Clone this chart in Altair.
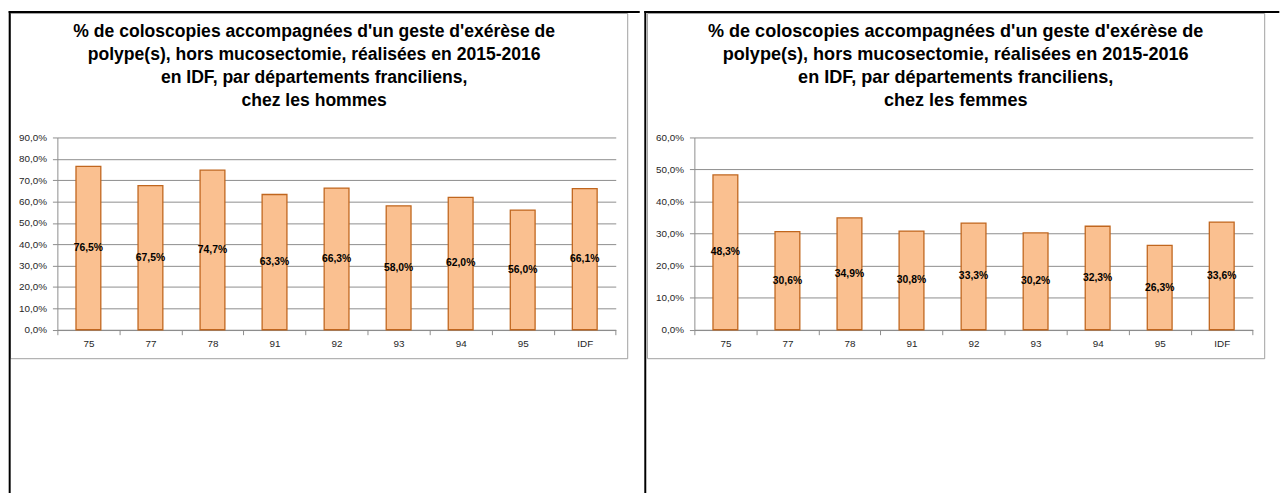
import altair as alt
import pandas as pd

categories = ["75", "77", "78", "91", "92", "93", "94", "95", "IDF"]
hommes = [76.5, 67.5, 74.7, 63.3, 66.3, 58.0, 62.0, 56.0, 66.1]
femmes = [48.3, 30.6, 34.9, 30.8, 33.3, 30.2, 32.3, 26.3, 33.6]

title_hommes = [
    "% de coloscopies accompagnées d'un geste d'exérèse de",
    "polype(s), hors mucosectomie, réalisées en 2015-2016",
    "en IDF, par départements franciliens,",
    "chez les hommes",
]
title_femmes = [
    "% de coloscopies accompagnées d'un geste d'exérèse de",
    "polype(s), hors mucosectomie, réalisées en 2015-2016",
    "en IDF, par départements franciliens,",
    "chez les femmes",
]

W = 565.4
H = 194.7
GRID = "#8c8c8c"
FONT = "Liberation Sans"
LABEL_COLOR = "#262626"


def panel(values, ymax, title_lines, title_x, title_size, vx, top_x2):
    df = pd.DataFrame({"cat": categories, "v": values})
    one = pd.DataFrame({"k": [0]})

    x_axis = alt.Axis(
        title=None, labelAngle=0, tickBand="extent", domainColor=GRID,
        tickColor=GRID, tickSize=5, labelPadding=4, labelFont=FONT,
        labelFontSize=10, labelColor=LABEL_COLOR, grid=False,
    )
    x_scale = alt.Scale(paddingInner=0, paddingOuter=0)
    y_axis = alt.Axis(
        title=None, values=list(range(0, ymax + 1, 10)), labelOverlap=False,
        labelExpr="replace(format(datum.value, '.1f'), '.', ',') + '%'",
        grid=True, gridColor=GRID, gridWidth=1, domainColor=GRID,
        tickColor=GRID, tickSize=5, labelPadding=6, labelFont=FONT,
        labelFontSize=10, labelColor=LABEL_COLOR,
    )
    y_scale = alt.Scale(domain=[0, ymax], nice=False)

    box = alt.Chart(one).mark_rect(fill="transparent", stroke="#a0a0a0", strokeWidth=1).encode(
        x=alt.value(-47.5), x2=alt.value(577.5), y=alt.value(-125.5), y2=alt.value(224)
    )
    # black table borders (drawn as filled rects so their extent is exact)
    vline = alt.Chart(one).mark_rect(fill="black", strokeWidth=0).encode(
        x=alt.value(vx), x2=alt.value(vx + 2), y=alt.value(-128), y2=alt.value(365)
    )
    hline = alt.Chart(one).mark_rect(fill="black", strokeWidth=0).encode(
        x=alt.value(vx), x2=alt.value(top_x2), y=alt.value(-128), y2=alt.value(-126)
    )
    title = alt.Chart(one).mark_text(
        text=title_lines, font=FONT, fontSize=title_size, fontWeight="bold",
        align="center", baseline="top", lineHeight=23.3, color="black",
    ).encode(x=alt.value(title_x), y=alt.value(-115.5))

    bars = alt.Chart(df).mark_bar(
        width=alt.RelativeBandSize(0.4), fill="#FAC090", stroke="#C0661E", strokeWidth=1.3
    ).encode(
        x=alt.X("cat:N", sort=categories, scale=x_scale, axis=x_axis),
        y=alt.Y("v:Q", scale=y_scale, axis=y_axis),
    )
    labels = alt.Chart(df).transform_calculate(
        mid="datum.v / 2",
        lab="replace(format(datum.v, '.1f'), '.', ',') + '%'",
    ).mark_text(
        font=FONT, fontSize=10.5, fontWeight="bold", color="black", baseline="middle"
    ).encode(
        x=alt.X("cat:N", sort=categories, scale=x_scale, axis=x_axis),
        y=alt.Y("mid:Q", scale=y_scale, axis=y_axis),
        text="lab:N",
    )
    return alt.layer(box, vline, hline, title, bars, labels).properties(width=W, height=H)


left = panel(hommes, 90, title_hommes, 260, 17.8, -49.3, 589.7)
right = panel(femmes, 60, title_femmes, 264.6, 18.3, -50.7, 592.3)

chart = alt.hconcat(left, right, spacing=4).properties(padding=0).configure_view(stroke=None)

chart.save("out.html", embed_options={"renderer": "svg", "actions": False})
